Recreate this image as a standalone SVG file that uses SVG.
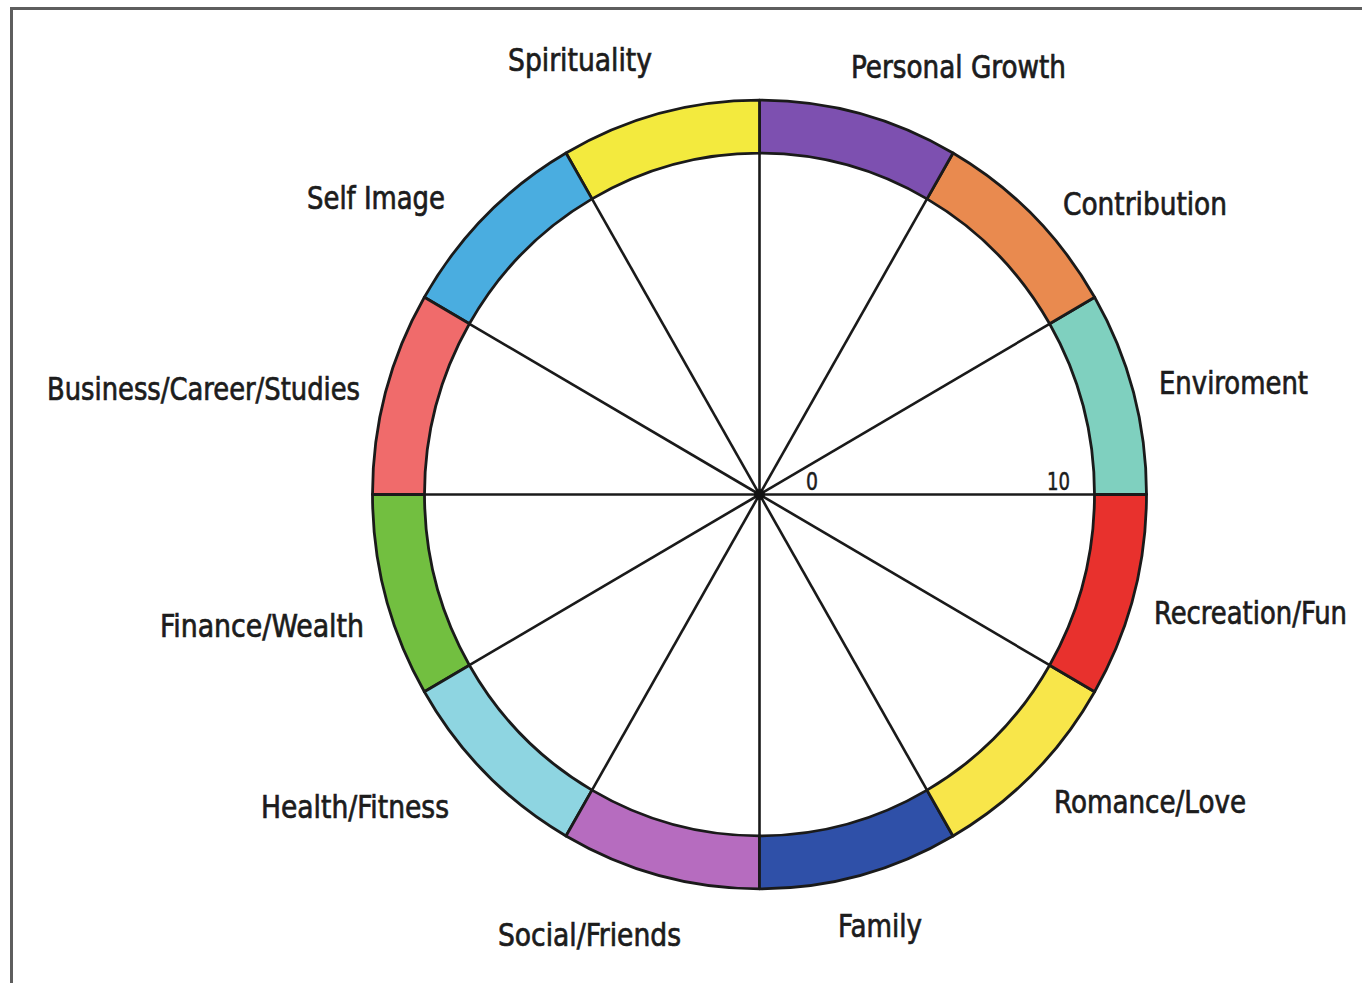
<svg xmlns="http://www.w3.org/2000/svg" width="1362" height="983" viewBox="0 0 1362 983">
  <style>
    .seg { stroke: #1a1a1a; stroke-width: 2.8; stroke-linejoin: round; }
    .spoke { stroke: #1a1a1a; stroke-width: 2.6; }
    .lbl { font-family: "Liberation Sans Narrow", "DejaVu Sans Condensed", "Roboto", sans-serif; font-size: 32px; fill: #1c1c1c; stroke: #1c1c1c; stroke-width: 0.7; }
    .tick { font-family: "Liberation Sans Narrow", "DejaVu Sans Condensed", "Roboto", sans-serif; font-size: 25px; fill: #1c1c1c; stroke: #1c1c1c; stroke-width: 0.5; }
  </style>

  <rect width="1362" height="983" fill="#ffffff"/>
  <!-- page frame (open on the right and bottom) -->
  <path d="M1362 8.5 H11.5 V983" fill="none" stroke="#5e5e5e" stroke-width="3"/>

  <!-- wheel: slightly taller than wide -->
  <g id="wheel" transform="translate(759.5,494.5) scale(1,1.019)">
    <g id="segments">
      <path id="seg-enviroment" class="seg" fill="#7fd0bf" d="M387 0 A387 387 0 0 0 335.14 -193.5 L290.11 -167.5 A335 335 0 0 1 335 0 Z"/>
      <path id="seg-contribution" class="seg" fill="#e98a4f" d="M335.14 -193.5 A387 387 0 0 0 193.5 -335.14 L167.5 -290.11 A335 335 0 0 1 290.11 -167.5 Z"/>
      <path id="seg-personal-growth" class="seg" fill="#7d50b0" d="M193.5 -335.14 A387 387 0 0 0 0 -387 L0 -335 A335 335 0 0 1 167.5 -290.11 Z"/>
      <path id="seg-spirituality" class="seg" fill="#f3ea3e" d="M0 -387 A387 387 0 0 0 -193.5 -335.14 L-167.5 -290.11 A335 335 0 0 1 0 -335 Z"/>
      <path id="seg-self-image" class="seg" fill="#4aade0" d="M-193.5 -335.14 A387 387 0 0 0 -335.14 -193.5 L-290.11 -167.5 A335 335 0 0 1 -167.5 -290.11 Z"/>
      <path id="seg-business" class="seg" fill="#f06b6b" d="M-335.14 -193.5 A387 387 0 0 0 -387 0 L-335 0 A335 335 0 0 1 -290.11 -167.5 Z"/>
      <path id="seg-finance" class="seg" fill="#72bf40" d="M-387 0 A387 387 0 0 0 -335.14 193.5 L-290.11 167.5 A335 335 0 0 1 -335 0 Z"/>
      <path id="seg-health" class="seg" fill="#8ed5e1" d="M-335.14 193.5 A387 387 0 0 0 -193.5 335.14 L-167.5 290.11 A335 335 0 0 1 -290.11 167.5 Z"/>
      <path id="seg-social" class="seg" fill="#b66cbf" d="M-193.5 335.14 A387 387 0 0 0 0 387 L0 335 A335 335 0 0 1 -167.5 290.11 Z"/>
      <path id="seg-family" class="seg" fill="#2f50a8" d="M0 387 A387 387 0 0 0 193.5 335.14 L167.5 290.11 A335 335 0 0 1 0 335 Z"/>
      <path id="seg-romance" class="seg" fill="#f8e64a" d="M193.5 335.14 A387 387 0 0 0 335.14 193.5 L290.11 167.5 A335 335 0 0 1 167.5 290.11 Z"/>
      <path id="seg-recreation" class="seg" fill="#e8312d" d="M335.14 193.5 A387 387 0 0 0 387 0 L335 0 A335 335 0 0 1 290.11 167.5 Z"/>
    </g>
    <g id="spokes">
      <line class="spoke" x1="-335" y1="0" x2="335" y2="0"/>
      <line class="spoke" x1="0" y1="-335" x2="0" y2="335"/>
      <line class="spoke" x1="-290.11" y1="167.5" x2="290.11" y2="-167.5"/>
      <line class="spoke" x1="-167.5" y1="290.11" x2="167.5" y2="-290.11"/>
      <line class="spoke" x1="-290.11" y1="-167.5" x2="290.11" y2="167.5"/>
      <line class="spoke" x1="-167.5" y1="-290.11" x2="167.5" y2="290.11"/>
    </g>
    <circle id="hub" cx="0" cy="0" r="5.5" fill="#111111"/>
  </g>

  <!-- scale marks on the east spoke -->
  <g id="scale">
    <text class="tick" x="806" y="490" textLength="12" lengthAdjust="spacingAndGlyphs">0</text>
    <text class="tick" x="1047" y="490" textLength="23" lengthAdjust="spacingAndGlyphs">10</text>
  </g>

  <!-- area labels -->
  <g id="labels">
    <text id="lbl-spirituality" class="lbl" x="508" y="71" textLength="144" lengthAdjust="spacingAndGlyphs">Spirituality</text>
    <text id="lbl-personal-growth" class="lbl" x="851" y="78" textLength="215" lengthAdjust="spacingAndGlyphs">Personal Growth</text>
    <text id="lbl-self-image" class="lbl" x="307" y="209" textLength="138" lengthAdjust="spacingAndGlyphs">Self Image</text>
    <text id="lbl-contribution" class="lbl" x="1063" y="215" textLength="164" lengthAdjust="spacingAndGlyphs">Contribution</text>
    <text id="lbl-business" class="lbl" x="47" y="400" textLength="313" lengthAdjust="spacingAndGlyphs">Business/Career/Studies</text>
    <text id="lbl-enviroment" class="lbl" x="1159" y="394" textLength="149" lengthAdjust="spacingAndGlyphs">Enviroment</text>
    <text id="lbl-recreation" class="lbl" x="1154" y="624" textLength="193" lengthAdjust="spacingAndGlyphs">Recreation/Fun</text>
    <text id="lbl-finance" class="lbl" x="160" y="637" textLength="204" lengthAdjust="spacingAndGlyphs">Finance/Wealth</text>
    <text id="lbl-health" class="lbl" x="261" y="818" textLength="188" lengthAdjust="spacingAndGlyphs">Health/Fitness</text>
    <text id="lbl-romance" class="lbl" x="1054" y="813" textLength="192" lengthAdjust="spacingAndGlyphs">Romance/Love</text>
    <text id="lbl-social" class="lbl" x="498" y="946" textLength="183" lengthAdjust="spacingAndGlyphs">Social/Friends</text>
    <text id="lbl-family" class="lbl" x="838" y="937" textLength="84" lengthAdjust="spacingAndGlyphs">Family</text>
  </g>
</svg>
